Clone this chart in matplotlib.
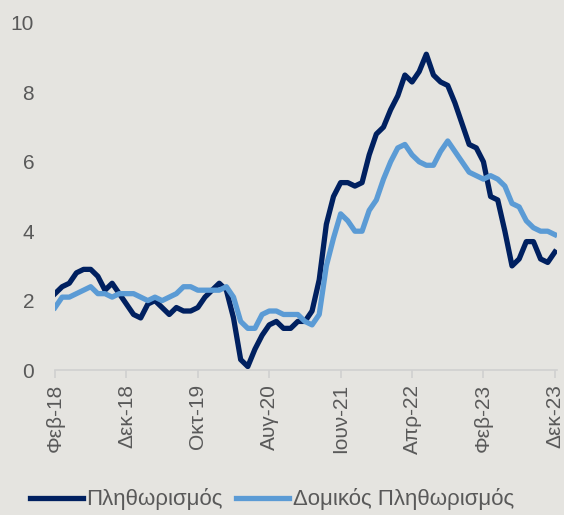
import matplotlib.pyplot as plt

plt.rcParams['font.family'] = ['Liberation Sans', 'DejaVu Sans']

# monthly values, Feb-18 .. Dec-23
headline = [2.2, 2.4, 2.5, 2.8, 2.9, 2.9, 2.7, 2.3, 2.5, 2.2, 1.9,
            1.6, 1.5, 1.9, 2.0, 1.8, 1.6, 1.8, 1.7, 1.7, 1.8, 2.1, 2.3,
            2.5, 2.3, 1.5, 0.3, 0.1, 0.6, 1.0, 1.3, 1.4, 1.2, 1.2, 1.4,
            1.4, 1.7, 2.6, 4.2, 5.0, 5.4, 5.4, 5.3, 5.4, 6.2, 6.8, 7.0,
            7.5, 7.9, 8.5, 8.3, 8.6, 9.1, 8.5, 8.3, 8.2, 7.7, 7.1, 6.5,
            6.4, 6.0, 5.0, 4.9, 4.0, 3.0, 3.2, 3.7, 3.7, 3.2, 3.1, 3.4]
core = [1.8, 2.1, 2.1, 2.2, 2.3, 2.4, 2.2, 2.2, 2.1, 2.2, 2.2,
        2.2, 2.1, 2.0, 2.1, 2.0, 2.1, 2.2, 2.4, 2.4, 2.3, 2.3, 2.3,
        2.3, 2.4, 2.1, 1.4, 1.2, 1.2, 1.6, 1.7, 1.7, 1.6, 1.6, 1.6,
        1.4, 1.3, 1.6, 3.0, 3.8, 4.5, 4.3, 4.0, 4.0, 4.6, 4.9, 5.5,
        6.0, 6.4, 6.5, 6.2, 6.0, 5.9, 5.9, 6.3, 6.6, 6.3, 6.0, 5.7,
        5.6, 5.5, 5.6, 5.5, 5.3, 4.8, 4.7, 4.3, 4.1, 4.0, 4.0, 3.9]
tick_labels = ['Φεβ-18', 'Δεκ-18', 'Οκτ-19', 'Αυγ-20', 'Ιουν-21',
               'Απρ-22', 'Φεβ-23', 'Δεκ-23']
series_names = ['Πληθωρισμός', 'Δομικός Πληθωρισμός']

bg = '#e5e4e0'
txt = '#595959'

fig = plt.figure(figsize=(5.64, 5.15), dpi=100, facecolor=bg)
ax = fig.add_axes([55 / 564, 1 - 370 / 515, 502 / 564, 347 / 515])
ax.set_facecolor(bg)

months = range(len(headline))
ax.plot(months, headline, color='#002060', lw=3.8, label=series_names[0],
        solid_joinstyle='round')
ax.plot(months, core, color='#5b9bd5', lw=3.8, label=series_names[1],
        solid_joinstyle='round')

ax.set_xlim(0, 70.3)
ax.set_ylim(0, 10)
ax.set_yticks([0, 2, 4, 6, 8, 10])
ax.set_xticks(range(0, 71, 10))
ax.set_xticklabels(tick_labels, rotation=90)

for s in ['top', 'right', 'left']:
    ax.spines[s].set_visible(False)
ax.spines['bottom'].set_color('#d0d0d0')
ax.spines['bottom'].set_linewidth(1.2)
ax.tick_params(axis='y', length=0, pad=15, labelsize=15, labelcolor=txt)
ax.tick_params(axis='x', length=6, color='#d0d0d0', width=1.2, pad=4,
               labelsize=15, labelcolor=txt)

fig.legend(loc='lower center', bbox_to_anchor=(0.482, -0.03), ncol=2,
           frameon=False, fontsize=16, labelcolor=txt, handlelength=2.4,
           handletextpad=0.15, columnspacing=0.6)

fig.savefig('out.png', facecolor=bg)
